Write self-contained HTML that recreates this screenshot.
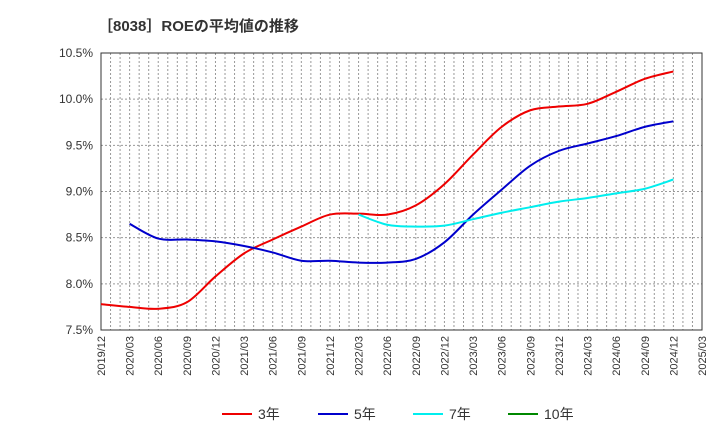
<!DOCTYPE html>
<html><head><meta charset="utf-8"><style>
body{margin:0;background:#fff;font-family:"Liberation Sans","Noto Sans CJK JP",sans-serif;}
svg text{font-family:"Liberation Sans","Noto Sans CJK JP",sans-serif;}
</style></head><body>
<svg id="c" width="720" height="440" xmlns="http://www.w3.org/2000/svg">
<text x="98" y="31" font-size="15" font-weight="bold" fill="#333">［8038］ROEの平均値の推移</text>
<g id="grid"></g><g id="axes"></g><g id="series"></g><g id="legend"></g>
</svg>
<script>
const xLabels=["2019/12","2020/03","2020/06","2020/09","2020/12","2021/03","2021/06","2021/09","2021/12","2022/03","2022/06","2022/09","2022/12","2023/03","2023/06","2023/09","2023/12","2024/03","2024/06","2024/09","2024/12","2025/03"];
const yTicks=[7.5,8.0,8.5,9.0,9.5,10.0,10.5];
const s3=[7.78,7.75,7.73,7.80,8.08,8.33,8.48,8.62,8.75,8.76,8.75,8.85,9.08,9.40,9.70,9.88,9.92,9.95,10.08,10.22,10.30];
const s5=[null,8.65,8.49,8.48,8.46,8.41,8.34,8.25,8.25,8.23,8.23,8.27,8.45,8.75,9.02,9.28,9.44,9.52,9.60,9.70,9.76];
const s7=[null,null,null,null,null,null,null,null,null,8.75,8.64,8.62,8.63,8.70,8.77,8.83,8.89,8.93,8.98,9.03,9.13];
const s10=[];
const L=101,R=702,T=53,B=330,yMin=7.5,yMax=10.5;
const NS="http://www.w3.org/2000/svg";
const X=i=>L+(R-L)*i/(xLabels.length-1);
const Y=v=>B-(B-T)*(v-yMin)/(yMax-yMin);
function mk(t,a,p){const e=document.createElementNS(NS,t);for(const k in a)e.setAttribute(k,a[k]);p.appendChild(e);return e;}
const g=document.getElementById('grid'),ax=document.getElementById('axes'),sg=document.getElementById('series'),lg=document.getElementById('legend');
for(let m=1;m<(xLabels.length-1)*3;m++){const x=L+(R-L)*m/((xLabels.length-1)*3);
const l=mk('line',{x1:x,x2:x,y1:T,y2:B,stroke:'#999','stroke-dasharray':'2,2','stroke-width':1},g);

}
yTicks.forEach(v=>{const l=mk('line',{x1:L,x2:R,y1:Y(v),y2:Y(v),stroke:'#999','stroke-dasharray':'2,2'},g);


const t=mk('text',{x:L-8,y:Y(v)+4,'text-anchor':'end','font-size':12,fill:'#333'},ax);t.textContent=v.toFixed(1)+'%';

});
const fr=mk('rect',{x:L,y:T,width:R-L,height:B-T,fill:'none',stroke:'#333'},ax);


xLabels.forEach((s,i)=>{const x=X(i),y=B+6;const t=mk('text',{x:x+4,y:y,'text-anchor':'end','font-size':11,fill:'#333',transform:`rotate(-90 ${x+4} ${y})`},ax);t.textContent=s;

});
function path(arr){const p=[];arr.forEach((v,i)=>{if(v!=null)p.push([X(i),Y(v)]);});if(p.length<2)return '';
let d=`M${p[0][0]},${p[0][1]}`;for(let i=0;i<p.length-1;i++){const p0=p[i-1]||p[i],p1=p[i],p2=p[i+1],p3=p[i+2]||p2;
d+=` C${p1[0]+(p2[0]-p0[0])/6},${p1[1]+(p2[1]-p0[1])/6} ${p2[0]-(p3[0]-p1[0])/6},${p2[1]-(p3[1]-p1[1])/6} ${p2[0]},${p2[1]}`;}return d;}
[[s3,'#e00','series-3yr'],[s5,'#00c','series-5yr'],[s7,'#0ee','series-7yr'],[s10,'#080','series-10yr']].forEach(([a,c,n])=>{const d=path(a);if(!d)return;
const e=mk('path',{d:d,fill:'none',stroke:c,'stroke-width':2},sg);

});
[['3年','#e00',222],['5年','#00c',318],['7年','#0ee',413],['10年','#080',508]].forEach(([s,c,x])=>{
const l=mk('line',{x1:x,x2:x+30,y1:414,y2:414,stroke:c,'stroke-width':2},lg);


const t=mk('text',{x:x+36,y:419,'font-size':14,fill:'#333'},lg);t.textContent=s;

});
</script>
</body></html>
